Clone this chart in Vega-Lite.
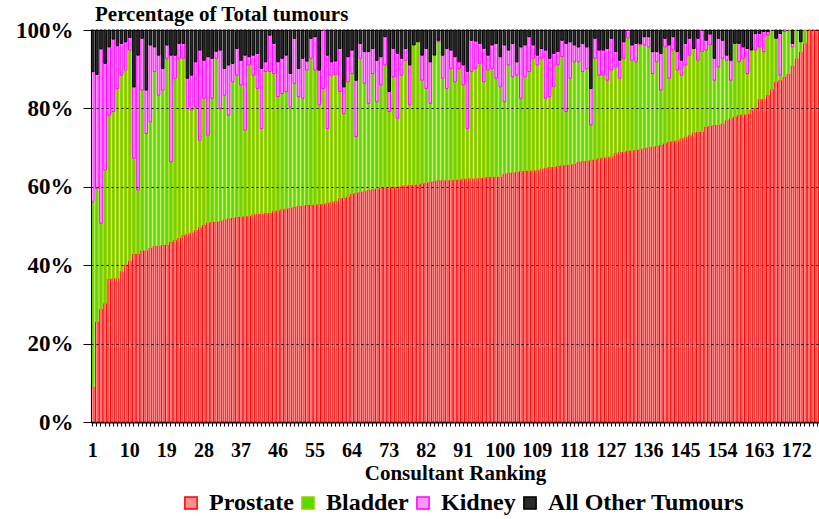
{
  "$schema": "https://vega.github.io/schema/vega-lite/v6.json",
  "autosize": "none",
  "width": 728,
  "height": 392,
  "padding": {"left": 91, "top": 30, "right": 0, "bottom": 97},
  "background": "white",
  "title": {"text": "Percentage of Total tumours", "anchor": "start", "frame": "group", "font": "Liberation Serif", "fontSize": 21, "fontWeight": "bold", "color": "black", "offset": -6, "dx": 4},
  "datasets": {
    "ord": [{"key": "Prostate", "ord": 0}, {"key": "Bladder", "ord": 1}, {"key": "Kidney", "ord": 2}, {"key": "All Other Tumours", "ord": 3}],
    "ranks": [
      {"r":1,"Prostate":9.0,"Bladder":47.2,"Kidney":33.2,"All Other Tumours":10.6},
      {"r":2,"Prostate":25.6,"Bladder":34.0,"Kidney":29.1,"All Other Tumours":11.3},
      {"r":3,"Prostate":28.8,"Bladder":21.9,"Kidney":44.5,"All Other Tumours":4.8},
      {"r":4,"Prostate":30.3,"Bladder":34.0,"Kidney":27.2,"All Other Tumours":8.5},
      {"r":5,"Prostate":36.5,"Bladder":41.8,"Kidney":17.4,"All Other Tumours":4.3},
      {"r":6,"Prostate":36.7,"Bladder":42.5,"Kidney":18.5,"All Other Tumours":2.3},
      {"r":7,"Prostate":36.7,"Bladder":48.4,"Kidney":10.9,"All Other Tumours":4.0},
      {"r":8,"Prostate":38.5,"Bladder":50.0,"Kidney":8.1,"All Other Tumours":3.4},
      {"r":9,"Prostate":40.2,"Bladder":49.6,"Kidney":7.2,"All Other Tumours":3.0},
      {"r":10,"Prostate":41.2,"Bladder":53.7,"Kidney":3.2,"All Other Tumours":1.9},
      {"r":11,"Prostate":42.9,"Bladder":24.4,"Kidney":18.2,"All Other Tumours":14.5},
      {"r":12,"Prostate":42.9,"Bladder":16.3,"Kidney":34.4,"All Other Tumours":6.4},
      {"r":13,"Prostate":43.8,"Bladder":40.9,"Kidney":13.2,"All Other Tumours":2.1},
      {"r":14,"Prostate":43.8,"Bladder":29.8,"Kidney":11.1,"All Other Tumours":15.3},
      {"r":15,"Prostate":44.5,"Bladder":32.1,"Kidney":19.6,"All Other Tumours":3.8},
      {"r":16,"Prostate":44.9,"Bladder":44.5,"Kidney":6.3,"All Other Tumours":4.3},
      {"r":17,"Prostate":45.0,"Bladder":38.4,"Kidney":10.2,"All Other Tumours":6.4},
      {"r":18,"Prostate":45.2,"Bladder":39.5,"Kidney":5.5,"All Other Tumours":9.8},
      {"r":19,"Prostate":45.2,"Bladder":47.6,"Kidney":3.4,"All Other Tumours":3.8},
      {"r":20,"Prostate":46.0,"Bladder":20.4,"Kidney":27.2,"All Other Tumours":6.4},
      {"r":21,"Prostate":46.4,"Bladder":41.3,"Kidney":5.9,"All Other Tumours":6.4},
      {"r":22,"Prostate":47.0,"Bladder":45.8,"Kidney":3.8,"All Other Tumours":3.4},
      {"r":23,"Prostate":47.7,"Bladder":45.1,"Kidney":3.8,"All Other Tumours":3.4},
      {"r":24,"Prostate":48.1,"Bladder":31.9,"Kidney":7.7,"All Other Tumours":12.3},
      {"r":25,"Prostate":48.4,"Bladder":31.2,"Kidney":8.9,"All Other Tumours":11.5},
      {"r":26,"Prostate":49.0,"Bladder":31.4,"Kidney":11.5,"All Other Tumours":8.1},
      {"r":27,"Prostate":49.7,"Bladder":22.2,"Kidney":23.0,"All Other Tumours":5.1},
      {"r":28,"Prostate":50.3,"Bladder":32.3,"Kidney":9.7,"All Other Tumours":7.7},
      {"r":29,"Prostate":50.9,"Bladder":22.3,"Kidney":20.0,"All Other Tumours":6.8},
      {"r":30,"Prostate":51.1,"Bladder":31.5,"Kidney":10.2,"All Other Tumours":7.2},
      {"r":31,"Prostate":51.1,"Bladder":41.7,"Kidney":1.8,"All Other Tumours":5.4},
      {"r":32,"Prostate":51.3,"Bladder":28.7,"Kidney":14.9,"All Other Tumours":5.1},
      {"r":33,"Prostate":51.7,"Bladder":31.7,"Kidney":6.8,"All Other Tumours":9.8},
      {"r":34,"Prostate":52.0,"Bladder":26.3,"Kidney":12.8,"All Other Tumours":8.9},
      {"r":35,"Prostate":52.1,"Bladder":34.7,"Kidney":4.7,"All Other Tumours":8.5},
      {"r":36,"Prostate":52.3,"Bladder":36.2,"Kidney":6.8,"All Other Tumours":4.7},
      {"r":37,"Prostate":52.4,"Bladder":33.6,"Kidney":6.3,"All Other Tumours":7.7},
      {"r":38,"Prostate":52.5,"Bladder":22.0,"Kidney":19.1,"All Other Tumours":6.4},
      {"r":39,"Prostate":52.6,"Bladder":38.5,"Kidney":2.1,"All Other Tumours":6.8},
      {"r":40,"Prostate":53.0,"Bladder":35.5,"Kidney":5.1,"All Other Tumours":6.4},
      {"r":41,"Prostate":53.2,"Bladder":31.9,"Kidney":8.9,"All Other Tumours":6.0},
      {"r":42,"Prostate":53.2,"Bladder":21.7,"Kidney":15.3,"All Other Tumours":9.8},
      {"r":43,"Prostate":53.4,"Bladder":36.0,"Kidney":2.5,"All Other Tumours":8.1},
      {"r":44,"Prostate":53.4,"Bladder":36.0,"Kidney":9.3,"All Other Tumours":1.3},
      {"r":45,"Prostate":53.8,"Bladder":35.1,"Kidney":7.7,"All Other Tumours":3.4},
      {"r":46,"Prostate":54.0,"Bladder":29.0,"Kidney":8.9,"All Other Tumours":8.1},
      {"r":47,"Prostate":54.3,"Bladder":29.5,"Kidney":9.0,"All Other Tumours":7.2},
      {"r":48,"Prostate":54.5,"Bladder":29.8,"Kidney":9.3,"All Other Tumours":6.4},
      {"r":49,"Prostate":54.7,"Bladder":25.7,"Kidney":8.5,"All Other Tumours":11.1},
      {"r":50,"Prostate":54.9,"Bladder":31.5,"Kidney":11.5,"All Other Tumours":2.1},
      {"r":51,"Prostate":55.1,"Bladder":27.9,"Kidney":7.2,"All Other Tumours":9.8},
      {"r":52,"Prostate":55.2,"Bladder":27.4,"Kidney":10.2,"All Other Tumours":7.2},
      {"r":53,"Prostate":55.4,"Bladder":34.4,"Kidney":2.3,"All Other Tumours":7.9},
      {"r":54,"Prostate":55.4,"Bladder":37.4,"Kidney":5.1,"All Other Tumours":2.1},
      {"r":55,"Prostate":55.5,"Bladder":34.3,"Kidney":8.5,"All Other Tumours":1.7},
      {"r":56,"Prostate":55.6,"Bladder":25.3,"Kidney":8.9,"All Other Tumours":10.2},
      {"r":57,"Prostate":55.7,"Bladder":29.4,"Kidney":14.9,"All Other Tumours":0},
      {"r":58,"Prostate":55.9,"Bladder":19.0,"Kidney":18.7,"All Other Tumours":6.4},
      {"r":59,"Prostate":56.2,"Bladder":32.3,"Kidney":3.4,"All Other Tumours":8.1},
      {"r":60,"Prostate":56.4,"Bladder":32.3,"Kidney":3.4,"All Other Tumours":7.9},
      {"r":61,"Prostate":57.1,"Bladder":27.2,"Kidney":11.0,"All Other Tumours":4.7},
      {"r":62,"Prostate":57.2,"Bladder":21.5,"Kidney":6.8,"All Other Tumours":14.5},
      {"r":63,"Prostate":57.5,"Bladder":29.3,"Kidney":6.4,"All Other Tumours":6.8},
      {"r":64,"Prostate":58.2,"Bladder":30.7,"Kidney":6.0,"All Other Tumours":5.1},
      {"r":65,"Prostate":58.5,"Bladder":14.3,"Kidney":14.4,"All Other Tumours":12.8},
      {"r":66,"Prostate":58.8,"Bladder":34.0,"Kidney":3.8,"All Other Tumours":3.4},
      {"r":67,"Prostate":58.9,"Bladder":27.5,"Kidney":8.1,"All Other Tumours":5.5},
      {"r":68,"Prostate":59.2,"Bladder":22.1,"Kidney":13.2,"All Other Tumours":5.5},
      {"r":69,"Prostate":59.4,"Bladder":29.5,"Kidney":6.4,"All Other Tumours":4.7},
      {"r":70,"Prostate":59.6,"Bladder":22.1,"Kidney":10.6,"All Other Tumours":7.7},
      {"r":71,"Prostate":59.8,"Bladder":26.2,"Kidney":7.2,"All Other Tumours":6.8},
      {"r":72,"Prostate":59.9,"Bladder":31.2,"Kidney":7.2,"All Other Tumours":1.7},
      {"r":73,"Prostate":60.0,"Bladder":19.2,"Kidney":5.1,"All Other Tumours":15.7},
      {"r":74,"Prostate":60.0,"Bladder":28.1,"Kidney":7.2,"All Other Tumours":4.7},
      {"r":75,"Prostate":60.1,"Bladder":17.4,"Kidney":16.5,"All Other Tumours":6.0},
      {"r":76,"Prostate":60.3,"Bladder":28.2,"Kidney":4.3,"All Other Tumours":7.2},
      {"r":77,"Prostate":60.4,"Bladder":31.9,"Kidney":3.0,"All Other Tumours":4.7},
      {"r":78,"Prostate":60.5,"Bladder":20.4,"Kidney":10.2,"All Other Tumours":8.9},
      {"r":79,"Prostate":60.6,"Bladder":35.6,"Kidney":0,"All Other Tumours":3.8},
      {"r":80,"Prostate":60.6,"Bladder":36.4,"Kidney":0,"All Other Tumours":3.0},
      {"r":81,"Prostate":60.9,"Bladder":26.3,"Kidney":6.4,"All Other Tumours":6.4},
      {"r":82,"Prostate":61.1,"Bladder":24.0,"Kidney":10.2,"All Other Tumours":4.7},
      {"r":83,"Prostate":61.3,"Bladder":20.0,"Kidney":10.6,"All Other Tumours":8.1},
      {"r":84,"Prostate":61.5,"Bladder":32.1,"Kidney":0,"All Other Tumours":6.4},
      {"r":85,"Prostate":61.7,"Bladder":35.3,"Kidney":0.4,"All Other Tumours":2.6},
      {"r":86,"Prostate":61.7,"Bladder":26.0,"Kidney":5.9,"All Other Tumours":6.4},
      {"r":87,"Prostate":61.7,"Bladder":23.4,"Kidney":10.2,"All Other Tumours":4.7},
      {"r":88,"Prostate":61.7,"Bladder":28.5,"Kidney":4.7,"All Other Tumours":5.1},
      {"r":89,"Prostate":61.8,"Bladder":25.0,"Kidney":6.4,"All Other Tumours":6.8},
      {"r":90,"Prostate":61.9,"Bladder":28.3,"Kidney":1.7,"All Other Tumours":8.1},
      {"r":91,"Prostate":62.0,"Bladder":24.0,"Kidney":5.1,"All Other Tumours":8.9},
      {"r":92,"Prostate":62.2,"Bladder":12.7,"Kidney":14.5,"All Other Tumours":10.6},
      {"r":93,"Prostate":62.2,"Bladder":27.2,"Kidney":8.0,"All Other Tumours":2.6},
      {"r":94,"Prostate":62.2,"Bladder":28.0,"Kidney":7.0,"All Other Tumours":2.8},
      {"r":95,"Prostate":62.3,"Bladder":29.2,"Kidney":5.1,"All Other Tumours":3.4},
      {"r":96,"Prostate":62.4,"Bladder":24.4,"Kidney":8.5,"All Other Tumours":4.7},
      {"r":97,"Prostate":62.5,"Bladder":27.3,"Kidney":3.8,"All Other Tumours":6.4},
      {"r":98,"Prostate":62.5,"Bladder":27.7,"Kidney":6.0,"All Other Tumours":3.8},
      {"r":99,"Prostate":62.6,"Bladder":25.1,"Kidney":8.9,"All Other Tumours":3.4},
      {"r":100,"Prostate":62.6,"Bladder":22.9,"Kidney":7.7,"All Other Tumours":6.8},
      {"r":101,"Prostate":63.4,"Bladder":18.3,"Kidney":14.5,"All Other Tumours":3.8},
      {"r":102,"Prostate":63.6,"Bladder":27.5,"Kidney":3.8,"All Other Tumours":5.1},
      {"r":103,"Prostate":63.7,"Bladder":24.4,"Kidney":8.5,"All Other Tumours":3.4},
      {"r":104,"Prostate":63.9,"Bladder":24.6,"Kidney":3.4,"All Other Tumours":8.1},
      {"r":105,"Prostate":64.0,"Bladder":18.6,"Kidney":13.1,"All Other Tumours":4.3},
      {"r":106,"Prostate":64.1,"Bladder":24.0,"Kidney":8.1,"All Other Tumours":3.8},
      {"r":107,"Prostate":64.2,"Bladder":25.2,"Kidney":8.9,"All Other Tumours":1.7},
      {"r":108,"Prostate":64.2,"Bladder":28.6,"Kidney":3.4,"All Other Tumours":3.8},
      {"r":109,"Prostate":64.3,"Bladder":26.8,"Kidney":2.5,"All Other Tumours":6.4},
      {"r":110,"Prostate":64.7,"Bladder":28.1,"Kidney":2.5,"All Other Tumours":4.7},
      {"r":111,"Prostate":64.9,"Bladder":17.7,"Kidney":12.3,"All Other Tumours":5.1},
      {"r":112,"Prostate":65.1,"Bladder":17.9,"Kidney":9.8,"All Other Tumours":7.2},
      {"r":113,"Prostate":65.1,"Bladder":20.4,"Kidney":8.5,"All Other Tumours":6.0},
      {"r":114,"Prostate":65.3,"Bladder":25.8,"Kidney":3.4,"All Other Tumours":5.5},
      {"r":115,"Prostate":65.5,"Bladder":27.7,"Kidney":4.2,"All Other Tumours":2.6},
      {"r":116,"Prostate":65.6,"Bladder":13.6,"Kidney":17.4,"All Other Tumours":3.4},
      {"r":117,"Prostate":65.7,"Bladder":22.0,"Kidney":9.3,"All Other Tumours":3.0},
      {"r":118,"Prostate":65.9,"Bladder":26.0,"Kidney":4.3,"All Other Tumours":3.8},
      {"r":119,"Prostate":66.4,"Bladder":25.5,"Kidney":3.8,"All Other Tumours":4.3},
      {"r":120,"Prostate":66.6,"Bladder":22.8,"Kidney":7.2,"All Other Tumours":3.4},
      {"r":121,"Prostate":66.7,"Bladder":23.5,"Kidney":5.5,"All Other Tumours":4.3},
      {"r":122,"Prostate":66.8,"Bladder":9.0,"Kidney":9.3,"All Other Tumours":14.9},
      {"r":123,"Prostate":67.0,"Bladder":25.8,"Kidney":5.1,"All Other Tumours":2.1},
      {"r":124,"Prostate":67.3,"Bladder":21.2,"Kidney":6.4,"All Other Tumours":5.1},
      {"r":125,"Prostate":67.5,"Bladder":21.0,"Kidney":6.4,"All Other Tumours":5.1},
      {"r":126,"Prostate":67.6,"Bladder":19.6,"Kidney":8.1,"All Other Tumours":4.7},
      {"r":127,"Prostate":67.8,"Bladder":22.0,"Kidney":8.1,"All Other Tumours":2.1},
      {"r":128,"Prostate":68.6,"Bladder":22.0,"Kidney":3.9,"All Other Tumours":5.5},
      {"r":129,"Prostate":68.9,"Bladder":18.8,"Kidney":4.6,"All Other Tumours":7.7},
      {"r":130,"Prostate":69.0,"Bladder":23.8,"Kidney":4.2,"All Other Tumours":3.0},
      {"r":131,"Prostate":69.2,"Bladder":28.8,"Kidney":2.0,"All Other Tumours":0},
      {"r":132,"Prostate":69.3,"Bladder":23.0,"Kidney":3.9,"All Other Tumours":3.8},
      {"r":133,"Prostate":69.4,"Bladder":22.5,"Kidney":4.7,"All Other Tumours":3.4},
      {"r":134,"Prostate":69.6,"Bladder":26.6,"Kidney":0.4,"All Other Tumours":3.4},
      {"r":135,"Prostate":69.9,"Bladder":26.3,"Kidney":2.1,"All Other Tumours":1.7},
      {"r":136,"Prostate":70.1,"Bladder":25.6,"Kidney":2.6,"All Other Tumours":1.7},
      {"r":137,"Prostate":70.3,"Bladder":18.6,"Kidney":5.6,"All Other Tumours":5.5},
      {"r":138,"Prostate":70.4,"Bladder":21.5,"Kidney":2.6,"All Other Tumours":5.5},
      {"r":139,"Prostate":70.7,"Bladder":14.0,"Kidney":9.3,"All Other Tumours":6.0},
      {"r":140,"Prostate":71.1,"Bladder":24.6,"Kidney":2.2,"All Other Tumours":2.1},
      {"r":141,"Prostate":71.5,"Bladder":16.2,"Kidney":8.5,"All Other Tumours":3.8},
      {"r":142,"Prostate":71.7,"Bladder":23.2,"Kidney":3.4,"All Other Tumours":1.7},
      {"r":143,"Prostate":71.9,"Bladder":17.9,"Kidney":4.7,"All Other Tumours":5.5},
      {"r":144,"Prostate":72.4,"Bladder":16.1,"Kidney":3.8,"All Other Tumours":7.7},
      {"r":145,"Prostate":72.8,"Bladder":18.3,"Kidney":5.5,"All Other Tumours":3.4},
      {"r":146,"Prostate":73.2,"Bladder":20.4,"Kidney":4.3,"All Other Tumours":2.1},
      {"r":147,"Prostate":73.9,"Bladder":21.4,"Kidney":0,"All Other Tumours":4.7},
      {"r":148,"Prostate":74.1,"Bladder":18.2,"Kidney":5.6,"All Other Tumours":2.1},
      {"r":149,"Prostate":74.1,"Bladder":20.4,"Kidney":5.5,"All Other Tumours":0},
      {"r":150,"Prostate":75.3,"Bladder":19.6,"Kidney":2.5,"All Other Tumours":2.6},
      {"r":151,"Prostate":75.6,"Bladder":20.6,"Kidney":2.8,"All Other Tumours":1.0},
      {"r":152,"Prostate":75.8,"Bladder":11.4,"Kidney":5.6,"All Other Tumours":7.2},
      {"r":153,"Prostate":75.9,"Bladder":14.7,"Kidney":7.3,"All Other Tumours":2.1},
      {"r":154,"Prostate":76.2,"Bladder":16.6,"Kidney":4.6,"All Other Tumours":2.6},
      {"r":155,"Prostate":77.0,"Bladder":15.3,"Kidney":1.3,"All Other Tumours":6.4},
      {"r":156,"Prostate":77.5,"Bladder":9.7,"Kidney":5.1,"All Other Tumours":7.7},
      {"r":157,"Prostate":77.9,"Bladder":18.7,"Kidney":0,"All Other Tumours":3.4},
      {"r":158,"Prostate":78.3,"Bladder":13.6,"Kidney":4.7,"All Other Tumours":3.4},
      {"r":159,"Prostate":78.5,"Bladder":14.3,"Kidney":2.9,"All Other Tumours":4.3},
      {"r":160,"Prostate":78.7,"Bladder":10.2,"Kidney":6.4,"All Other Tumours":4.7},
      {"r":161,"Prostate":79.6,"Bladder":15.3,"Kidney":0,"All Other Tumours":5.1},
      {"r":162,"Prostate":80.2,"Bladder":14.7,"Kidney":4.2,"All Other Tumours":0.9},
      {"r":163,"Prostate":82.4,"Bladder":13.3,"Kidney":3.4,"All Other Tumours":0.9},
      {"r":164,"Prostate":82.4,"Bladder":12.1,"Kidney":5.1,"All Other Tumours":0.4},
      {"r":165,"Prostate":83.4,"Bladder":15.3,"Kidney":0.9,"All Other Tumours":0.4},
      {"r":166,"Prostate":84.9,"Bladder":15.1,"Kidney":0,"All Other Tumours":0},
      {"r":167,"Prostate":86.8,"Bladder":11.1,"Kidney":0,"All Other Tumours":2.1},
      {"r":168,"Prostate":87.2,"Bladder":1.3,"Kidney":10.6,"All Other Tumours":0.9},
      {"r":169,"Prostate":88.1,"Bladder":11.5,"Kidney":0.4,"All Other Tumours":0},
      {"r":170,"Prostate":88.9,"Bladder":11.1,"Kidney":0,"All Other Tumours":0},
      {"r":171,"Prostate":90.9,"Bladder":4.8,"Kidney":0.9,"All Other Tumours":3.4},
      {"r":172,"Prostate":92.8,"Bladder":7.2,"Kidney":0,"All Other Tumours":0},
      {"r":173,"Prostate":94.5,"Bladder":2.5,"Kidney":0,"All Other Tumours":3.0},
      {"r":174,"Prostate":96.6,"Bladder":3.4,"Kidney":0,"All Other Tumours":0},
      {"r":175,"Prostate":100,"Bladder":0,"Kidney":0,"All Other Tumours":0},
      {"r":176,"Prostate":100,"Bladder":0,"Kidney":0,"All Other Tumours":0},
      {"r":177,"Prostate":100,"Bladder":0,"Kidney":0,"All Other Tumours":0}
    ]
  },
  "data": {"name": "ranks"},
  "transform": [
    {"fold": ["Prostate", "Bladder", "Kidney", "All Other Tumours"], "as": ["key", "v"]},
    {"filter": "datum.v > 0"},
    {"lookup": "key", "from": {"data": {"name": "ord"}, "key": "key", "fields": ["ord"]}}
  ],
  "mark": {"type": "bar", "strokeWidth": 1},
  "encoding": {
    "x": {
      "field": "r", "type": "ordinal", "title": "Consultant Ranking",
      "scale": {"paddingInner": 0.35, "paddingOuter": 0.1},
      "axis": {
        "labelExpr": "(datum.value - 1) % 9 == 0 ? datum.label : ''",
        "labelAngle": 0, "labelOverlap": false, "labelFont": "Liberation Serif", "labelFontSize": 20, "labelFontWeight": "bold", "labelColor": "black",
        "labelPadding": 14, "tickSize": 4, "tickColor": "black", "domainColor": "black", "domainWidth": 2,
        "titleFont": "Liberation Serif", "titleFontSize": 21, "titleFontWeight": "bold", "titleColor": "black", "titlePadding": 2
      }
    },
    "y": {
      "field": "v", "type": "quantitative", "stack": "normalize", "title": null,
      "scale": {"domain": [0, 1], "nice": false},
      "axis": {
        "values": [0, 0.2, 0.4, 0.6, 0.8, 1], "format": ".0%", "zindex": 1,
        "labelFont": "Liberation Serif", "labelFontSize": 23, "labelFontWeight": "bold", "labelColor": "black", "labelPadding": 10,
        "tickSize": 8, "tickColor": "black", "domainColor": "black", "domainWidth": 1,
        "grid": true, "gridColor": "black", "gridDash": [2, 3], "gridWidth": 1, "gridOpacity": 1
      }
    },
    "fill": {
      "field": "key", "type": "nominal", "title": null,
      "scale": {"domain": ["Prostate", "Bladder", "Kidney", "All Other Tumours"], "range": ["#ff9090", "#55dd00", "#ff99ff", "#2a2a2a"]}
    },
    "stroke": {
      "field": "key", "type": "nominal", "title": null,
      "scale": {"domain": ["Prostate", "Bladder", "Kidney", "All Other Tumours"], "range": ["#ff0000", "#a8cc00", "#ff00ff", "#000000"]}
    },
    "order": {"field": "ord", "type": "quantitative"}
  },
  "config": {
    "view": {"stroke": "black", "strokeWidth": 1},
    "legend": {
      "orient": "none", "legendX": 88, "legendY": 461, "direction": "horizontal", "symbolType": "square", "symbolSize": 150, "symbolStrokeWidth": 1.5,
      "labelFont": "Liberation Serif", "labelFontSize": 24, "labelFontWeight": "bold", "labelColor": "black",
      "columnPadding": 2, "labelOffset": 6, "padding": 0, "labelLimit": 400
    }
  }
}
